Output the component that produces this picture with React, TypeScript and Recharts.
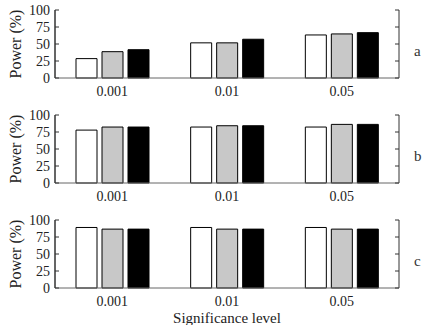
import { BarChart, Bar, XAxis, YAxis, CartesianGrid } from 'recharts';

// significance levels on the x axis
const levels = ['0.001', '0.01', '0.05'];
const powerTicks = [0, 25, 50, 75, 100];

// power (%) per method, panel a
const aWhite = [28.5, 51.7, 63.3];
const aGray = [38.7, 51.7, 64.8];
const aBlack = [41.6, 57, 66.7];

// panel b
const bWhite = [77.8, 82.3, 82.3];
const bGray = [82.3, 84.2, 86.2];
const bBlack = [82.3, 84.2, 86.2];

// panel c
const cWhite = [89, 89, 89];
const cGray = [86.6, 86.6, 86.6];
const cBlack = [86.6, 86.6, 86.6];

const panelNames = ['a', 'b', 'c'];

const font = 'Liberation Serif, Times New Roman, serif';
const frame = '#333';
const W = 436;
const MARGIN_RIGHT = 37;
const TICK_MARGIN = 5;

function makeRows(w: number[], g: number[], b: number[]) {
  return levels.map((level, i) => ({ level, white: w[i], gray: g[i], black: b[i] }));
}

const panels = [
  makeRows(aWhite, aGray, aBlack),
  makeRows(bWhite, bGray, bBlack),
  makeRows(cWhite, cGray, cBlack),
];

// y tick: label on the left, short inward marks on both frame sides
function PowerTick(props: any) {
  const { x, y, payload } = props;
  const left = x + TICK_MARGIN;
  const right = W - MARGIN_RIGHT;
  return (
    <g>
      <text x={x} y={y} dy="0.355em" textAnchor="end" fontSize={14} fill="#222" fontFamily={font}>
        {payload.value}
      </text>
      <line x1={left} x2={left + 4} y1={y} y2={y} stroke={frame} />
      <line x1={right - 4} x2={right} y1={y} y2={y} stroke={frame} />
    </g>
  );
}

// vertical grid lines only at the plot's left and right edges -> box sides
const frameSides = ({ offset }: any) => [offset.left, offset.left + offset.width];

function Panel({ rows, name, last }: { rows: any[]; name: string; last: boolean }) {
  const height = last ? 115 : 105;
  return (
    <div style={{ position: 'relative', width: W, height }}>
      <BarChart
        width={W}
        height={height}
        data={rows}
        margin={{ top: 10, right: MARGIN_RIGHT, left: 0, bottom: 0 }}
        barSize={21}
        barGap={5}
        style={{ fontFamily: font }}
      >
        <CartesianGrid horizontal={false} verticalCoordinatesGenerator={frameSides} stroke={frame} strokeOpacity={1} />
        <XAxis
          dataKey="level"
          tickLine={false}
          tickSize={0}
          tickMargin={8}
          height={last ? 37 : 27}
          axisLine={{ stroke: '#666' }}
          tick={{ fontSize: 14, fill: '#222', fontFamily: font }}
          label={
            last
              ? { value: 'Significance level', position: 'insideBottom', offset: 2, fontSize: 15, fill: '#222', fontFamily: font }
              : undefined
          }
        />
        <XAxis xAxisId="top" dataKey="level" orientation="top" height={0} tick={false} tickLine={false} axisLine={{ stroke: frame }} />
        <YAxis
          domain={[0, 100]}
          ticks={powerTicks}
          interval={0}
          width={55}
          tickLine={false}
          tickSize={0}
          tickMargin={TICK_MARGIN}
          axisLine={{ stroke: frame }}
          tick={PowerTick}
          label={{ value: 'Power (%)', angle: -90, position: 'center', dx: -12, fontSize: 16, fill: '#222', fontFamily: font }}
        />
        <Bar dataKey="white" fill="#ffffff" stroke="#000" strokeWidth={1} isAnimationActive={false} />
        <Bar dataKey="gray" fill="#c8c8c8" stroke="#000" strokeWidth={1} isAnimationActive={false} />
        <Bar dataKey="black" fill="#000000" stroke="#000" strokeWidth={1} isAnimationActive={false} />
      </BarChart>
      <span
        style={{
          position: 'absolute',
          left: 414,
          top: 44,
          fontFamily: font,
          fontSize: 15,
          lineHeight: '15px',
          color: '#333',
        }}
      >
        {name}
      </span>
    </div>
  );
}

export default function App() {
  return (
    <div style={{ position: 'absolute', top: 0, left: 0, width: W, height: 325, background: '#fff' }}>
      {panels.map((rows, i) => (
        <Panel key={panelNames[i]} rows={rows} name={panelNames[i]} last={i === panels.length - 1} />
      ))}
    </div>
  );
}
